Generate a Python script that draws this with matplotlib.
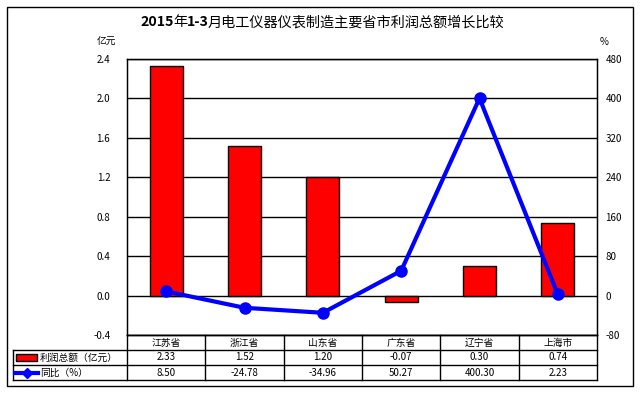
import numpy as np
import matplotlib.pyplot as plt
from matplotlib.patches import Rectangle
from matplotlib.lines import Line2D

plt.rcParams['font.family'] = ['Noto Sans CJK SC', 'DejaVu Sans']

cats = ['江苏省', '浙江省', '山东省', '广东省', '辽宁省', '上海市']
profit = [2.33, 1.52, 1.20, -0.07, 0.30, 0.74]
yoy = [8.50, -24.78, -34.96, 50.27, 400.30, 2.23]
profit_lbl = ['2.33', '1.52', '1.20', '-0.07', '0.30', '0.74']
yoy_lbl = ['8.50', '-24.78', '-34.96', '50.27', '400.30', '2.23']
row_names = ['利润总额（亿元）', '同比（%）']
left_ticks = [-0.4, 0.0, 0.4, 0.8, 1.2, 1.6, 2.0, 2.4]
right_ticks = [-80, 0, 80, 160, 240, 320, 400, 480]
title_parts = [('2015', 'bold'), ('年', 'normal'), ('1-3', 'bold'),
               ('月电工仪器仪表制造主要省市利润总额增长比较', 'normal')]

W, H = 643, 394
fig = plt.figure(figsize=(W / 100, H / 100), dpi=100)

def fx(px):
    return px / W

def fy(py):
    return 1 - py / H

# outer frame
fig.patches.append(Rectangle((fx(7), fy(386)), fx(626), 379 / H, transform=fig.transFigure,
                             fill=False, edgecolor='black', lw=1))

L, R, T, B = 127, 597, 59, 335
ax = fig.add_axes([fx(L), fy(B), fx(R - L), (B - T) / H])
x = np.arange(len(cats))
ax.bar(x, profit, width=0.42, color='#ff0000', edgecolor='black', lw=1, zorder=2)
ax.set_xlim(-0.5, len(cats) - 0.5)
ax.set_ylim(-0.4, 2.4)
ax.set_yticks(left_ticks)
ax.set_yticklabels(['%.1f' % t for t in left_ticks], fontsize=7)
ax.set_xticks([])
ax.tick_params(axis='y', length=0, pad=12)
for t in left_ticks:
    ax.axhline(t, color='black', lw=1, zorder=1)
for s in ax.spines.values():
    s.set_linewidth(1)

ax2 = ax.twinx()
ax2.plot(x, yoy, color='#0000ff', lw=3, marker='o', ms=8, zorder=3)
ax2.set_ylim(-80, 480)
ax2.set_yticks(right_ticks)
ax2.set_yticklabels([str(t) for t in right_ticks], fontsize=7)
ax2.tick_params(axis='y', length=0, pad=6)
ax2.set_xlim(-0.5, len(cats) - 0.5)

# title with bold digits, regular Chinese
renderer = fig.canvas.get_renderer()
texts = []
for s, w in title_parts:
    texts.append(fig.text(0, fy(22), s, ha='left', va='center', fontsize=10.2, fontweight=w))
widths = [t.get_window_extent(renderer).width - 0.5 for t in texts]
xpos = 322 - sum(widths) / 2
for t, w in zip(texts, widths):
    t.set_x(fx(xpos))
    xpos += w

fig.text(fx(106), fy(42), '亿元', ha='center', va='center', fontsize=7)
fig.text(fx(604), fy(42), '%', ha='center', va='center', fontsize=7)

# data table
rows = [335, 350, 365, 380]
TL = 13
colw = (R - L) / len(cats)
for i, yy in enumerate(rows):
    x0 = L if i == 0 else TL
    fig.lines.append(Line2D([fx(x0), fx(R)], [fy(yy), fy(yy)], transform=fig.transFigure,
                            color='black', lw=1))
fig.lines.append(Line2D([fx(TL), fx(TL)], [fy(350), fy(380)], transform=fig.transFigure,
                        color='black', lw=1))
for j in range(len(cats) + 1):
    xx = L + j * colw
    fig.lines.append(Line2D([fx(xx), fx(xx)], [fy(335), fy(380)], transform=fig.transFigure,
                            color='black', lw=1))
for j, c in enumerate(cats):
    cx = L + (j + 0.5) * colw
    fig.text(fx(cx), fy(342.5), c, ha='center', va='center', fontsize=7)
    fig.text(fx(cx), fy(357.5), profit_lbl[j], ha='center', va='center', fontsize=7)
    fig.text(fx(cx), fy(372.5), yoy_lbl[j], ha='center', va='center', fontsize=7)

fig.patches.append(Rectangle((fx(16), fy(361)), fx(21), 7 / H, transform=fig.transFigure,
                             facecolor='#ff0000', edgecolor='black', lw=1))
fig.lines.append(Line2D([fx(15), fx(38)], [fy(372.5), fy(372.5)], transform=fig.transFigure,
                        color='#0000ff', lw=3))
fig.lines.append(Line2D([fx(26.5)], [fy(372.5)], transform=fig.transFigure,
                        color='#0000ff', marker='D', ms=5, lw=0))
fig.text(fx(40), fy(357.5), row_names[0], ha='left', va='center', fontsize=7)
fig.text(fx(40), fy(372.5), row_names[1], ha='left', va='center', fontsize=7)

fig.savefig('out.png', dpi=100)
